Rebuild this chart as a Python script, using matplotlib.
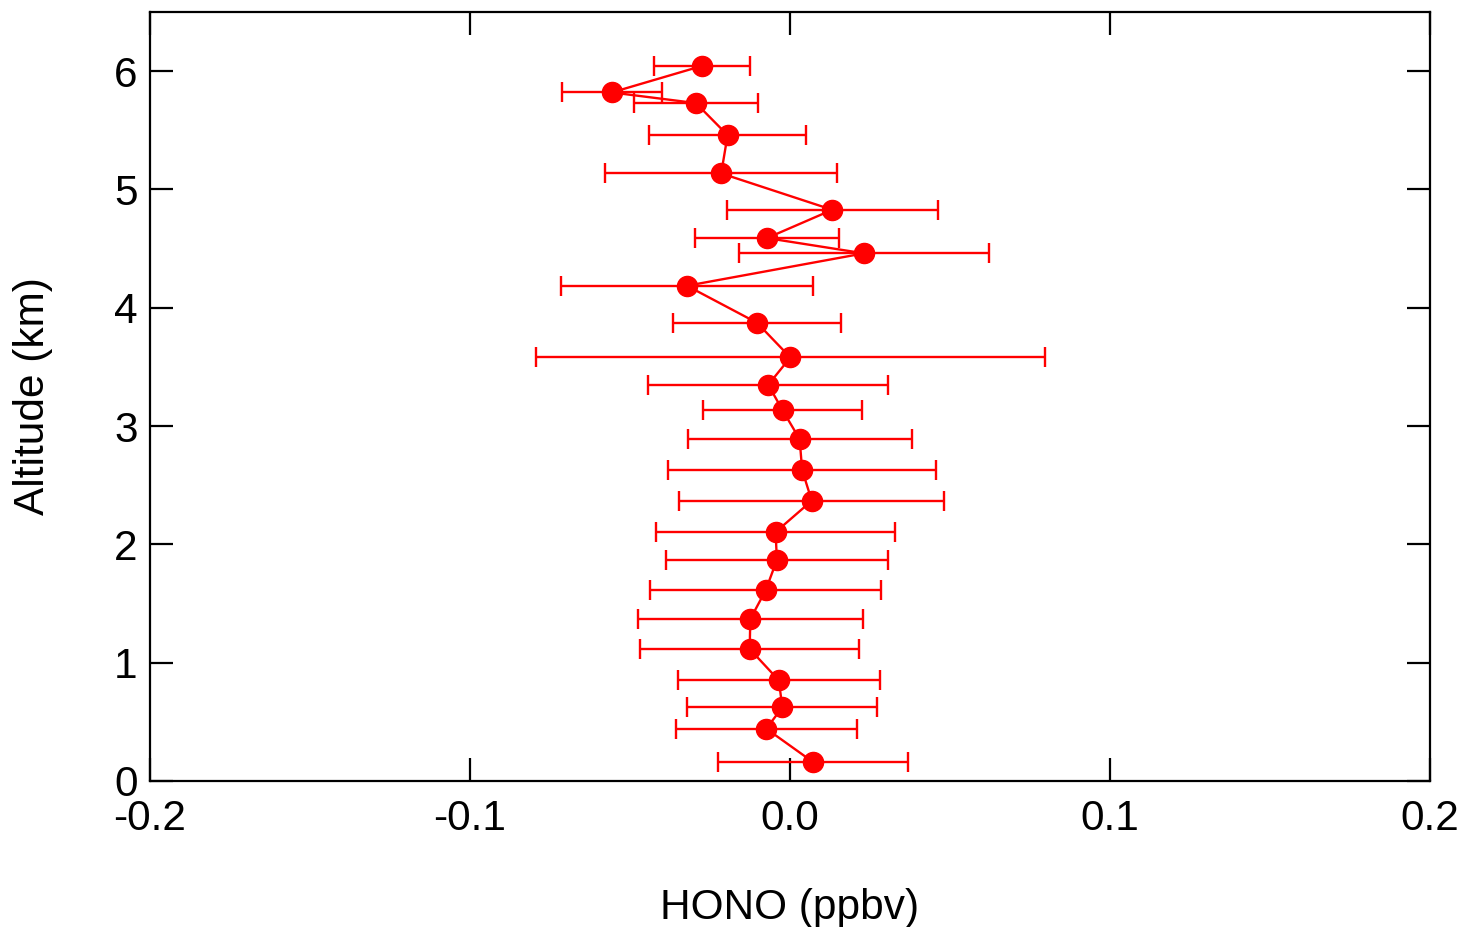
import matplotlib
matplotlib.use('Agg')
import matplotlib.pyplot as plt

plt.rcParams['font.family'] = ['Liberation Sans', 'DejaVu Sans']
plt.rcParams['axes.unicode_minus'] = False

# HONO profile: altitude (km), mixing ratio (ppbv), symmetric error (ppbv)
altitude = [6.045, 5.82, 5.73, 5.459, 5.136, 4.828, 4.589, 4.46, 4.186,
            3.873, 3.58, 3.349, 3.133, 2.89, 2.628, 2.369, 2.104, 1.868,
            1.612, 1.369, 1.116, 0.851, 0.623, 0.442, 0.158]
hono = [-0.0274, -0.0557, -0.0294, -0.0195, -0.0215, 0.0132, -0.0072,
        0.0231, -0.0322, -0.0103, 0.0001, -0.0068, -0.0023, 0.0030,
        0.0038, 0.0068, -0.0045, -0.0041, -0.0076, -0.0124, -0.0126,
        -0.0035, -0.0024, -0.0074, 0.0073]
hono_err = [0.0150, 0.0156, 0.0193, 0.0245, 0.0363, 0.0329, 0.0226,
            0.0390, 0.0395, 0.0263, 0.0795, 0.0375, 0.0249, 0.0350,
            0.0418, 0.0414, 0.0373, 0.0348, 0.0361, 0.0351, 0.0342,
            0.0316, 0.0297, 0.0283, 0.0297]

xticks = [-0.2, -0.1, 0.0, 0.1, 0.2]
xticklabels = ['-0.2', '-0.1', '0.0', '0.1', '0.2']
yticks = [0, 1, 2, 3, 4, 5, 6]

fig = plt.figure(figsize=(14.64, 9.27), dpi=100)
ax = fig.add_axes([150 / 1464, 1 - 781 / 927, 1280 / 1464, 769 / 927])

ax.errorbar(hono, altitude, xerr=hono_err, color='red', ecolor='red',
            marker='o', markersize=14.5, linewidth=1.7, elinewidth=1.7,
            capsize=7.5, capthick=1.7)

ax.set_xlim(-0.2, 0.2)
ax.set_ylim(0, 6.5)
ax.set_xticks(xticks)
ax.set_xticklabels(xticklabels)
ax.set_yticks(yticks)
ax.tick_params(direction='in', length=16.5, width=1.6, labelsize=30.5,
               top=True, right=True)
ax.tick_params(axis='x', pad=13)
ax.tick_params(axis='y', pad=9)
for s in ax.spines.values():
    s.set_linewidth(1.6)

ax.set_xlabel('HONO (ppbv)', fontsize=30.5, labelpad=35)
ax.set_ylabel('Altitude (km)', fontsize=30.5, labelpad=44)

fig.savefig('out.png', dpi=100)
